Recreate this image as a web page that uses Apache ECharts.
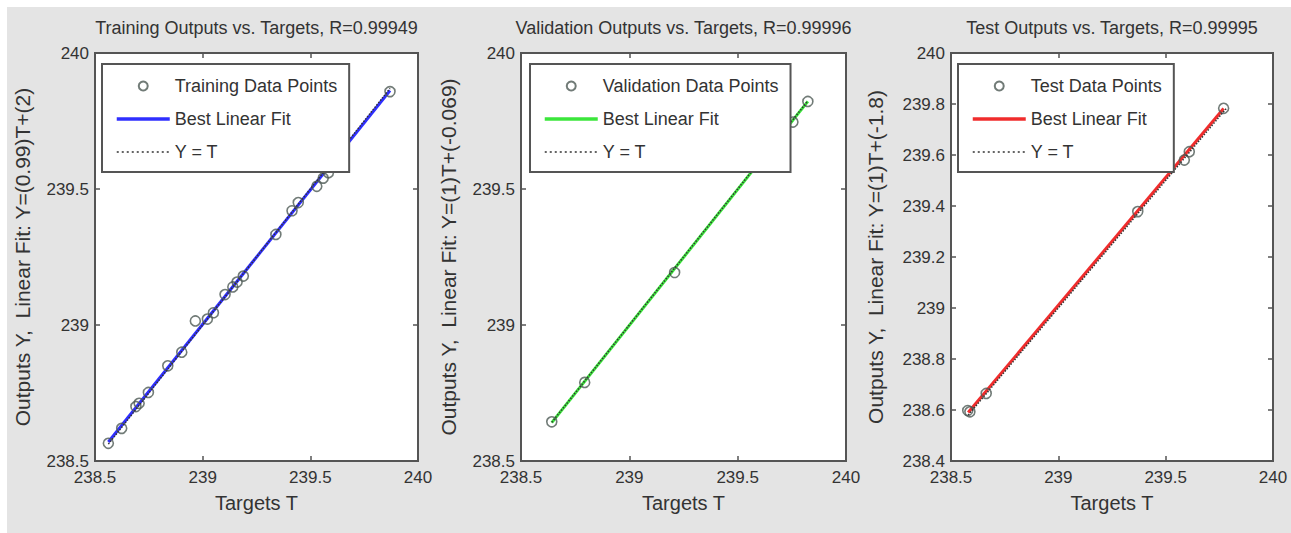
<!DOCTYPE html>
<html>
<head>
<meta charset="utf-8">
<script src="https://cdn.jsdelivr.net/npm/echarts@6/dist/echarts.min.js"></script>
<style>
html,body{margin:0;padding:0;background:#fff;}
#c{width:1291px;height:533px;}
</style>
</head>
<body>
<div id="c"></div>
<script>
// ---------- data ----------
const titles = [
  'Training Outputs vs. Targets, R=0.99949',
  'Validation Outputs vs. Targets, R=0.99996',
  'Test Outputs vs. Targets, R=0.99995'
];
const yNames = [
  'Outputs Y,  Linear Fit: Y=(0.99)T+(2)',
  'Outputs Y,  Linear Fit: Y=(1)T+(-0.069)',
  'Outputs Y,  Linear Fit: Y=(1)T+(-1.8)'
];
const xName = 'Targets T';
const pointLabels = ['Training Data Points', 'Validation Data Points', 'Test Data Points'];
const fitLabel = 'Best Linear Fit';
const idLabel = 'Y = T';

// Training
const trainT = [238.562, 238.624, 238.690, 238.705, 238.748, 238.838, 238.903, 238.966, 239.022, 239.050, 239.104, 239.140, 239.160, 239.189, 239.340, 239.415, 239.444, 239.530, 239.560, 239.584, 239.870];
const trainY = [238.565, 238.620, 238.700, 238.712, 238.752, 238.850, 238.900, 239.015, 239.022, 239.045, 239.112, 239.140, 239.158, 239.180, 239.333, 239.420, 239.450, 239.510, 239.540, 239.560, 239.858];
const trainFitT = [238.562, 239.870];
const trainFitY = [238.570, 239.862];
const trainIdT = [238.562, 239.870];

// Validation
const valT = [238.642, 238.794, 239.209, 239.755, 239.824];
const valY = [238.644, 238.789, 239.193, 239.746, 239.822];
const valFitT = [238.642, 239.824];
const valFitY = [238.641, 239.822];
const valIdT = [238.642, 239.824];

// Test
const testT = [238.578, 238.588, 238.664, 239.370, 239.587, 239.610, 239.770];
const testY = [238.598, 238.593, 238.665, 239.378, 239.580, 239.613, 239.783];
const testFitT = [238.580, 239.770];
const testFitY = [238.590, 239.782];
const testIdT = [238.580, 239.783];

// Axis ranges / ticks
const xMin = 238.5, xMax = 240, xStep = 0.5;
const yRanges = [[238.5, 240, 0.5], [238.5, 240, 0.5], [238.4, 240, 0.2]];
const lineColors = ['#2f2fff', '#3be63b', '#f02c2c'];

// ---------- build ----------
const FN = "'Liberation Sans', Arial, sans-serif";
const TXT = '#333';
const zip = (a, b) => a.map((v, i) => [v, b[i]]);
const panels = [
  {pts: zip(trainT, trainY), fit: zip(trainFitT, trainFitY), id: zip(trainIdT, trainIdT)},
  {pts: zip(valT, valY), fit: zip(valFitT, valFitY), id: zip(valIdT, valIdT)},
  {pts: zip(testT, testY), fit: zip(testFitT, testFitY), id: zip(testIdT, testIdT)}
];
const grids = [
  {left: 95, top: 53, width: 323, height: 408},
  {left: 521, top: 53, width: 325, height: 408},
  {left: 951, top: 53, width: 322, height: 408}
];
const legendPos = [{left: 102, top: 64}, {left: 530, top: 64}, {left: 958, top: 64}];
const yNameGap = [62, 62, 65];

const option = {
  animation: false,
  backgroundColor: '#fff',
  graphic: [{type: 'rect', left: 7, top: 7, z: -10, shape: {width: 1284, height: 526}, style: {fill: '#e4e4e4'}}],
  title: [], grid: [], xAxis: [], yAxis: [], series: [], legend: []
};
const labelNames = {};
panels.forEach((p, i) => {
  const g = grids[i];
  option.title.push({text: titles[i], left: g.left + g.width / 2, top: 19, textAlign: 'center', padding: 0,
    textStyle: {fontFamily: FN, fontSize: 18, fontWeight: 'normal', color: TXT}});
  option.grid.push({left: g.left, top: g.top, width: g.width, height: g.height, show: true,
    backgroundColor: '#fff', borderColor: '#555', borderWidth: 2, containLabel: false});
  const [yMin, yMax, yStep] = yRanges[i];
  const tick = {show: true, inside: true, length: 5, lineStyle: {color: '#555', width: 1.5}};
  option.xAxis.push({type: 'value', gridIndex: i, min: xMin, max: xMax, interval: xStep, position: 'bottom',
    name: xName, nameLocation: 'middle', nameGap: 32,
    nameTextStyle: {fontFamily: FN, fontSize: 20, color: TXT},
    axisLine: {show: false}, axisTick: tick, splitLine: {show: false},
    axisLabel: {fontFamily: FN, fontSize: 17, color: TXT, margin: 8}});
  option.xAxis.push({type: 'value', gridIndex: i, min: xMin, max: xMax, interval: xStep, position: 'top',
    axisLine: {show: false}, axisTick: tick, splitLine: {show: false}, axisLabel: {show: false}});
  option.yAxis.push({type: 'value', gridIndex: i, min: yMin, max: yMax, interval: yStep, position: 'left',
    name: yNames[i], nameLocation: 'middle', nameGap: yNameGap[i], nameRotate: 90,
    nameTextStyle: {fontFamily: FN, fontSize: 21, color: TXT},
    axisLine: {show: false}, axisTick: tick, splitLine: {show: false},
    axisLabel: {fontFamily: FN, fontSize: 17, color: TXT, margin: 6, lineHeight: 14}});
  option.yAxis.push({type: 'value', gridIndex: i, min: yMin, max: yMax, interval: yStep, position: 'right',
    axisLine: {show: false}, axisTick: tick, splitLine: {show: false}, axisLabel: {show: false}});
  const nPts = 'pts' + i, nFit = 'fit' + i, nId = 'id' + i;
  labelNames[nPts] = pointLabels[i]; labelNames[nFit] = fitLabel; labelNames[nId] = idLabel;
  option.series.push({name: nPts, type: 'scatter', xAxisIndex: 2 * i, yAxisIndex: 2 * i, data: p.pts,
    symbol: 'circle', symbolSize: 10, z: 2,
    itemStyle: {color: 'rgba(0,0,0,0)', borderColor: '#4d5a55', borderWidth: 1.6}});
  option.series.push({name: nFit, type: 'line', xAxisIndex: 2 * i, yAxisIndex: 2 * i, data: p.fit,
    symbol: 'none', z: 2, lineStyle: {color: lineColors[i], width: 3}, itemStyle: {color: lineColors[i]}});
  option.series.push({name: nId, type: 'line', xAxisIndex: 2 * i, yAxisIndex: 2 * i, data: p.id,
    symbol: 'none', z: 3, lineStyle: {color: '#333', width: 1.5, type: 'dotted'}, itemStyle: {color: '#333'}});
  option.legend.push({
    data: [{name: nPts},
           {name: nFit, itemStyle: {opacity: 0}, lineStyle: {width: 3.5}},
           {name: nId, itemStyle: {opacity: 0}, lineStyle: {width: 1.5, type: [2, 3]}}],
    orient: 'vertical', left: legendPos[i].left, top: legendPos[i].top, z: 10,
    padding: [11, 12, 9, 13], itemWidth: 53, itemHeight: 9, itemGap: 11,
    backgroundColor: '#fff', borderColor: '#555', borderWidth: 2, borderRadius: 0,
    selectedMode: false,
    formatter: name => labelNames[name],
    textStyle: {fontFamily: FN, fontSize: 18, lineHeight: 22, color: TXT}});
});

const chart = echarts.init(document.getElementById('c'), null, {renderer: 'svg', width: 1291, height: 533});
chart.setOption(option);
</script>
</body>
</html>
